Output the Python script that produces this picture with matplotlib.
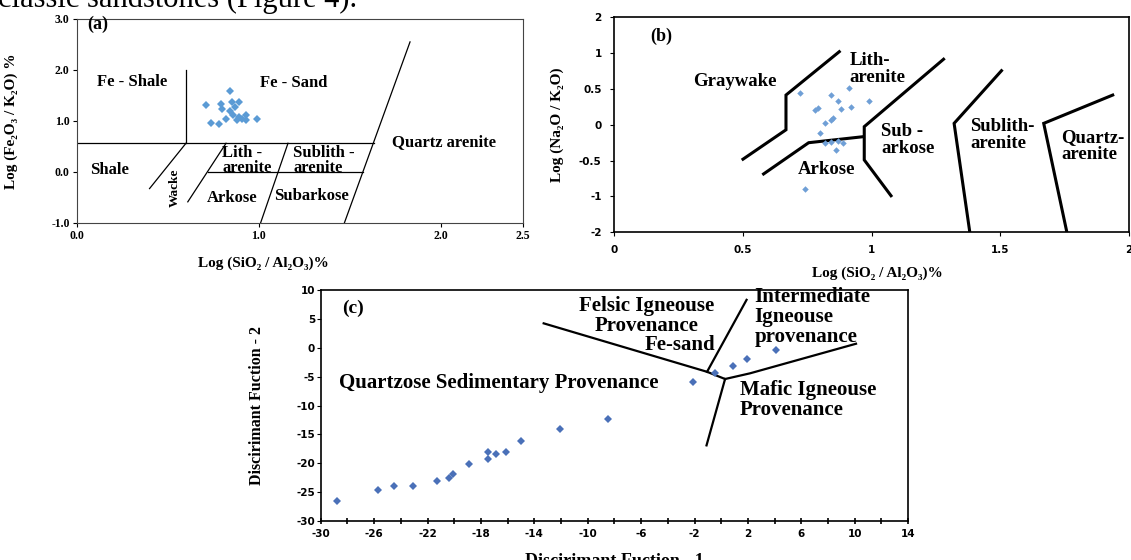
import numpy as np
import matplotlib.pyplot as plt

plt.rcParams['font.family'] = ['Liberation Serif', 'DejaVu Serif']
plt.rcParams['font.weight'] = 'bold'
plt.rcParams['axes.labelweight'] = 'bold'
plt.rcParams['axes.unicode_minus'] = False

# (a) log(SiO2/Al2O3) vs log(Fe2O3/K2O)
a_sio2_al2o3 = [0.84, 0.71, 0.79, 0.85, 0.89, 0.80, 0.84, 0.82, 0.86, 0.89,
                0.93, 0.88, 0.99, 0.93, 0.74, 0.78, 0.87, 0.91]
a_fe2o3_k2o = [1.59, 1.31, 1.33, 1.37, 1.37, 1.24, 1.19, 1.04, 1.11, 1.08,
               1.01, 1.01, 1.03, 1.11, 0.96, 0.94, 1.27, 1.04]
a_xticks = [0, 1, 2, 2.5]
a_yticks = [-1, 0, 1, 2, 3]

# (b) log(SiO2/Al2O3) vs log(Na2O/K2O)
b_sio2_al2o3 = [0.72, 0.91, 0.84, 0.87, 0.99, 0.79, 0.78, 0.88, 0.92, 0.85,
                0.84, 0.82, 0.80, 0.82, 0.84, 0.87, 0.89, 0.86, 0.74]
b_na2o_k2o = [0.44, 0.51, 0.42, 0.33, 0.33, 0.24, 0.20, 0.22, 0.25, 0.10,
              0.06, 0.03, -0.12, -0.26, -0.24, -0.23, -0.26, -0.35, -0.89]
b_xticks = [0, 0.5, 1, 1.5, 2]
b_yticks = [-2, -1, -0.5, 0, 0.5, 1, 2]

# (c) discriminant functions
c_df1 = [-28.8, -25.7, -24.5, -23.1, -21.3, -20.4, -20.1, -18.9, -17.5, -17.5,
         -16.9, -16.1, -15.0, -12.1, -8.5, -2.1, -0.5, 0.9, 1.9, 4.1]
c_df2 = [-26.6, -24.6, -23.9, -23.9, -23.1, -22.5, -21.8, -20.1, -19.2, -18.1,
         -18.4, -18.1, -16.1, -14.0, -12.3, -6.0, -4.4, -3.2, -2.0, -0.3]
c_xticks = list(range(-30, 15, 4))
c_yticks = list(range(-30, 11, 5))

# field boundaries (x list, y list)
a_fields = [
    ([0.60, 0.60], [2.0, 0.56]),
    ([0.0, 1.63], [0.56, 0.56]),
    ([0.72, 1.57], [0.0, 0.0]),
    ([0.40, 0.60], [-0.33, 0.56]),
    ([0.61, 0.82], [-0.59, 0.56]),
    ([1.01, 1.16], [-1.0, 0.56]),
    ([1.47, 1.83], [-1.0, 2.55]),
]
b_fields = [
    ([0.50, 0.667, 0.667, 0.874], [-0.48, -0.07, 0.415, 1.04]),
    ([0.58, 0.755, 0.967], [-0.686, -0.25, -0.166]),
    ([1.279, 0.971, 0.971, 1.075], [0.915, -0.026, -0.49, -0.99]),
    ([1.504, 1.320, 1.381], [0.755, 0.02, -2.0]),
    ([1.936, 1.668, 1.758], [0.415, 0.02, -2.0]),
]
c_fields = [
    ([-13.3, -1.06, 0.29], [4.23, -4.16, -5.41]),
    ([-1.06, 1.9], [-4.16, 8.3]),
    ([0.29, 2.15, 10.1], [-5.41, -4.43, 0.7]),
    ([0.29, -1.1], [-5.41, -16.9]),
]


def piecewise(values, positions):
    return (lambda v: np.interp(v, values, positions),
            lambda p: np.interp(p, positions, values))


serif_tick = dict(fontweight='bold', family=['Liberation Serif'])
sans_tick = dict(fontweight='bold', family=['DejaVu Sans'])

fig = plt.figure(figsize=(11.31, 5.6), dpi=100)
ax_a = fig.add_axes([0.0678, 0.6023, 0.3946, 0.3638])
ax_b = fig.add_axes([0.5431, 0.5852, 0.4553, 0.3839])
ax_c = fig.add_axes([0.2836, 0.0696, 0.5193, 0.4125])

fig.text(357 / 1131, 1 - 7 / 560, 'classic sandstones (Figure 4).',
         ha='right', va='baseline', fontsize=22, fontweight='normal')

# ---- (a)
ax_a.set_xscale('function', functions=piecewise([0, 2, 2.5], [0, 2, 2.45]))
ax_a.set_xlim(0, 2.5)
ax_a.set_ylim(-1, 3)
for xs, ys in a_fields:
    ax_a.plot(xs, ys, color='black', lw=0.9)
ax_a.plot(a_sio2_al2o3, a_fe2o3_k2o, 'D', color='#5b9bd5', ms=4.3, mew=0)
ax_a.set_xticks(a_xticks, ['%.1f' % v for v in a_xticks], **serif_tick)
ax_a.set_yticks(a_yticks, ['%.1f' % v for v in a_yticks], **serif_tick)
ax_a.tick_params(length=3, width=0.8, labelsize=8.5, pad=2)
for s in ax_a.spines.values():
    s.set_color('#444444')
ax_a.set_xlabel('Log (SiO₂ / Al₂O₃)%', fontsize=11)
ax_a.xaxis.set_label_coords(0.418, -0.167)
ax_a.set_ylabel('Log (Fe₂O₃ / K₂O) %', fontsize=11)
ax_a.yaxis.set_label_coords(-0.131, 0.5)

fs_a = 12
ax_a.text(0.117, 2.9, '(a)', fontsize=13, ha='center', va='center')
ax_a.text(0.306, 1.77, 'Fe - Shale', fontsize=fs_a, ha='center', va='center')
ax_a.text(1.194, 1.75, 'Fe - Sand', fontsize=fs_a, ha='center', va='center')
ax_a.text(2.02, 0.574, 'Quartz arenite', fontsize=fs_a, ha='center', va='center')
ax_a.text(0.178, 0.03, 'Shale', fontsize=fs_a, ha='center', va='center')
ax_a.text(0.54, -0.32, 'Wacke', fontsize=9.5, ha='center', va='center', rotation=90)
ax_a.text(0.80, 0.22, 'Lith -\narenite', fontsize=fs_a, ha='left', va='center',
          linespacing=0.95)
ax_a.text(1.19, 0.22, 'Sublith -\narenite', fontsize=fs_a, ha='left', va='center',
          linespacing=0.95)
ax_a.text(0.852, -0.515, 'Arkose', fontsize=fs_a, ha='center', va='center')
ax_a.text(1.287, -0.48, 'Subarkose', fontsize=fs_a, ha='center', va='center')

# ---- (b)
ax_b.set_yscale('function', functions=piecewise(b_yticks, list(range(len(b_yticks)))))
ax_b.set_xlim(0, 2)
ax_b.set_ylim(-2, 2)
for xs, ys in b_fields:
    ax_b.plot(xs, ys, color='black', lw=2.2, solid_joinstyle='miter')
ax_b.plot(b_sio2_al2o3, b_na2o_k2o, 'D', color='#6f9fd6', ms=3.3, mew=0)
ax_b.set_xticks(b_xticks, ['%g' % v for v in b_xticks], **sans_tick)
ax_b.set_yticks(b_yticks, ['%g' % v for v in b_yticks], **sans_tick)
ax_b.tick_params(length=3, width=0.8, labelsize=7.5, pad=6)
for s in ax_b.spines.values():
    s.set_linewidth(1.2)
ax_b.set_xlabel('Log (SiO₂ / Al₂O₃)%', fontsize=11)
ax_b.xaxis.set_label_coords(0.511, -0.16)
ax_b.set_ylabel('Log (Na₂O / K₂O)', fontsize=11)
ax_b.yaxis.set_label_coords(-0.098, 0.5)

fs_b = 13.5
ax_b.text(0.181, 1.46, '(b)', fontsize=13, ha='center', va='center')
ax_b.text(0.469, 0.60, 'Graywake', fontsize=fs_b, ha='center', va='center')
ax_b.text(0.913, 0.78, 'Lith-\narenite', fontsize=fs_b, ha='left', va='center',
          linespacing=1.0)
ax_b.text(1.036, -0.21, 'Sub -\narkose', fontsize=fs_b, ha='left', va='center',
          linespacing=1.0)
ax_b.text(1.383, -0.14, 'Sublith-\narenite', fontsize=fs_b, ha='left', va='center',
          linespacing=1.0)
ax_b.text(1.735, -0.29, 'Quartz-\narenite', fontsize=fs_b, ha='left', va='center',
          linespacing=1.0)
ax_b.text(0.826, -0.62, 'Arkose', fontsize=fs_b, ha='center', va='center')

# ---- (c)
ax_c.set_xlim(-30, 14)
ax_c.set_ylim(-30, 10)
for xs, ys in c_fields:
    ax_c.plot(xs, ys, color='black', lw=1.6)
ax_c.plot(c_df1, c_df2, 'D', color='#4a70b8', ms=3.8, mew=0)
ax_c.set_xticks(c_xticks, ['%d' % v for v in c_xticks], **sans_tick)
ax_c.set_xticks(range(-28, 14, 4), minor=True)
ax_c.set_yticks(c_yticks, ['%d' % v for v in c_yticks], **sans_tick)
ax_c.tick_params(axis='x', which='both', direction='inout', length=4, width=1.2)
ax_c.tick_params(axis='y', length=3, width=0.8, pad=1)
ax_c.tick_params(labelsize=7.5)
for s in ax_c.spines.values():
    s.set_linewidth(1.2)
ax_c.set_xlabel('Discirimant Fuction - 1', fontsize=13)
ax_c.xaxis.set_label_coords(0.5, -0.14)
ax_c.set_ylabel('Discirimant Fuction - 2', fontsize=11.5)
ax_c.yaxis.set_label_coords(-0.095, 0.5)

fs_c = 15
ax_c.text(-27.56, 6.83, '(c)', fontsize=14, ha='center', va='center')
ax_c.text(-5.58, 5.53, 'Felsic Igneouse\nProvenance', fontsize=fs_c,
          ha='center', va='center', linespacing=1.0)
ax_c.text(-3.09, 0.48, 'Fe-sand', fontsize=fs_c, ha='center', va='center')
ax_c.text(-16.63, -6.16, 'Quartzose Sedimentary Provenance', fontsize=fs_c,
          ha='center', va='center')
ax_c.text(2.5, 5.26, 'Intermediate\nIgneouse\nprovenance', fontsize=fs_c,
          ha='left', va='center', linespacing=1.0)
ax_c.text(1.4, -9.0, 'Mafic Igneouse\nProvenance', fontsize=fs_c,
          ha='left', va='center', linespacing=1.0)

fig.savefig('out.png', dpi=100)
